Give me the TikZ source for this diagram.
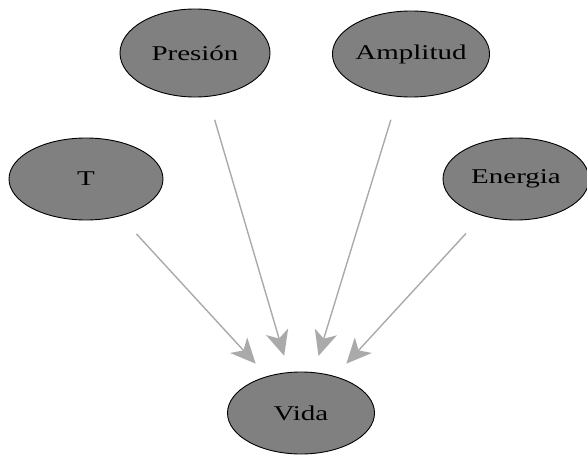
\documentclass[tikz,border=0pt]{standalone}
\usepackage{fontspec}
\setmainfont{Liberation Serif}
\usetikzlibrary{shapes.geometric,arrows.meta}
\definecolor{nodegray}{RGB}{128,128,128}
\definecolor{edgegray}{RGB}{170,170,170}
\tikzset{
  var/.style={ellipse, draw=black, line width=0.9pt, fill=nodegray, inner sep=0pt,
    font=\fontsize{21}{23}\selectfont, text=black},
  link/.style={draw=edgegray, line width=1.4pt,
    -{Stealth[length=25pt,width=23pt,inset=7pt]},
    shorten <=24pt, shorten >=17pt}
}
\newcommand{\wide}[1]{\scalebox{1.38}[1]{#1}}
\begin{document}
\begin{tikzpicture}[x=1pt,y=-1pt]
\useasboundingbox (0,0) rectangle (587,455);
\node[var, minimum width=150pt, minimum height=88pt] (pres) at (195,53) {\wide{Presión}};
\node[var, minimum width=152pt, minimum height=86pt] (ampl) at (411,54) {\wide{Amplitud}};
\node[var, minimum width=154pt, minimum height=82pt] (t) at (86,179) {\wide{T}};
\node[var, minimum width=146pt, minimum height=82pt] (ener) at (516,179) {\wide{Energia}};
\node[var, minimum width=147pt, minimum height=82pt] (vida) at (301,413) {\wide{Vida}};
\draw[link] (t) -- (vida);
\draw[link] (pres) -- (vida);
\draw[link] (ampl) -- (vida);
\draw[link] (ener) -- (vida);
\end{tikzpicture}
\end{document}
